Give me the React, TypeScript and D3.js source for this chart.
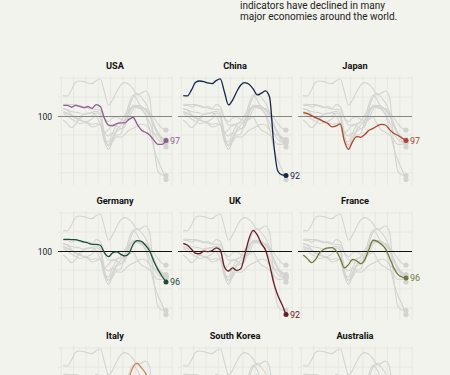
import React from "react";
import * as d3 from "d3";

const countries = ["USA", "China", "Japan", "Germany", "UK", "France", "Italy", "South Korea", "Australia"];
const colors = ["#8f5e8e", "#14264a", "#b0452a", "#1d4d3c", "#6a1b26", "#6c7b3b", "#d9825b", "#3b8b9c", "#c09a3e"];

const months = [0, 2, 4, 6, 8, 10, 12, 14, 16, 18, 20, 22, 24, 26, 28, 30, 32, 34, 36, 38, 40, 42, 44, 46, 48, 50];
const gridMonths = [-1, 5, 11, 17, 23, 29, 35, 41, 47, 53];
const gridValues = [92.5, 95, 97.5, 102.5, 105];

const usa = [101.4, 101.4, 101.15, 101.4, 101.25, 101.1, 101.25, 101.0, 101.5, 101.25, 99.7, 98.8, 98.7, 99.0, 99.1, 99.1, 99.55, 99.8, 98.9, 98.15, 97.85, 97.5, 96.85, 96.25, 96.25, 96.75];
const china = [102.68, 102.64, 103.43, 104.44, 104.61, 104.53, 104.35, 104.26, 104.66, 104.88, 103.2, 101.45, 102.1, 103.2, 104.09, 104.39, 104.17, 103.56, 102.77, 103.0, 103.3, 102.5, 96.4, 92.75, 92.22, 92.14];
const japan = [100.44, 100.31, 100.04, 99.78, 99.56, 99.25, 98.99, 98.55, 98.68, 98.95, 96.7, 95.6, 96.62, 97.28, 97.19, 97.58, 98.11, 98.37, 98.68, 98.9, 98.81, 98.2, 97.72, 97.45, 97.1, 96.75];
const germany = [101.54, 101.54, 101.49, 101.49, 101.36, 101.19, 101.05, 100.88, 100.88, 100.75, 99.78, 99.25, 99.74, 99.87, 99.56, 99.34, 99.69, 100.88, 101.36, 101.27, 100.75, 100.0, 98.68, 97.58, 96.7, 95.91];
const uk = [101.01, 100.75, 100.22, 99.69, 99.65, 99.96, 99.91, 100.04, 100.4, 100.13, 97.93, 97.36, 97.76, 97.45, 97.67, 99.56, 101.63, 102.72, 102.11, 100.97, 100.13, 98.24, 95.83, 94.16, 92.97, 91.61];
const france = [99.47, 98.99, 98.46, 98.9, 99.78, 100.22, 100.4, 100.44, 100.0, 98.99, 97.76, 98.2, 98.9, 98.68, 98.33, 98.9, 100.22, 101.41, 101.27, 100.88, 100.31, 99.12, 97.8, 96.92, 96.57, 96.44];
const italy = [100.9, 100.8, 100.6, 100.5, 100.4, 100.2, 100.3, 100.5, 100.6, 100.4, 97.5, 96.0, 96.8, 98.0, 98.3, 98.6, 101.0, 102.5, 103.0, 102.4, 101.7, 100.5, 99.0, 97.8, 97.0, 96.5];
const southKorea = [100.3, 100.0, 99.6, 99.3, 99.0, 99.1, 99.3, 99.6, 100.0, 99.8, 97.0, 96.2, 97.2, 98.2, 98.8, 99.5, 100.6, 101.2, 101.4, 101.2, 100.8, 100.4, 99.8, 99.0, 98.4, 98.15];
const australia = [100.6, 100.4, 100.1, 99.7, 99.4, 99.3, 99.1, 98.9, 99.0, 98.8, 96.8, 96.6, 97.8, 98.8, 99.3, 100.2, 100.8, 101.2, 101.1, 100.9, 101.0, 100.2, 99.0, 97.8, 97.2, 96.9];

const seriesList = [usa, china, japan, germany, uk, france, italy, southKorea, australia];

const headerLines = ["indicators have declined in many", "major economies around the world."];

const W = 450;
const H = 375;
const colX = [58, 178, 298];
const rowY = [75, 210, 345];
const panelW = 114;
const panelH = 110;
const baselineColors = ["#858585", "#111111", "#111111"];

const FONT = "Roboto, 'Liberation Sans', sans-serif";

export default function App() {
  const x = d3.scaleLinear().domain([0, 50]).range([5.3, 108]);
  const y = d3.scaleLinear().domain([90.9, 105.4]).range([panelH, 0]);
  const line = d3
    .line<number>()
    .x((_, i) => x(months[i]))
    .y((d) => y(d))
    .curve(d3.curveMonotoneX);
  const y100 = Math.round(y(100)) + 0.5;

  return (
    <svg width={W} height={H} style={{ position: "absolute", left: 0, top: 0 }}>
      <rect x={0} y={0} width={W} height={H} fill="#f3f3ee" />
      {headerLines.map((t, i) => (
        <text key={i} x={240} y={8.5 + i * 11} fontFamily={FONT} fontSize={10} fill="#222">
          {t}
        </text>
      ))}
      {countries.map((name, ci) => {
        const col = ci % 3;
        const row = Math.floor(ci / 3);
        const data = seriesList[ci];
        const last = data[data.length - 1];
        const labelY = rowY[row] + y(last) + 3;
        const showLabels = labelY < H - 2;
        return (
          <g key={name} transform={`translate(${colX[col]},${rowY[row]})`}>
            <text
              x={panelW / 2}
              y={-6}
              textAnchor="middle"
              fontFamily={FONT}
              fontWeight={700}
              fontSize={9.2}
              fill="#111"
            >
              {name}
            </text>
            {gridMonths.map((m) => (
              <line key={"v" + m} x1={x(m)} x2={x(m)} y1={1} y2={panelH} stroke="#e4e4de" strokeWidth={0.8} />
            ))}
            {gridValues.map((v) => (
              <line key={"h" + v} x1={0} x2={panelW} y1={y(v)} y2={y(v)} stroke="#e4e4de" strokeWidth={0.8} />
            ))}
            {seriesList.map((s, si) =>
              si === ci ? null : (
                <g key={"g" + si}>
                  <path d={line(s) || ""} fill="none" stroke="#d3d3d1" strokeWidth={1.1} />
                  <circle cx={x(months[months.length - 1])} cy={y(s[s.length - 1])} r={2.6} fill="#d3d3d1" />
                </g>
              )
            )}
            <line x1={0} x2={panelW} y1={y100} y2={y100} stroke={baselineColors[row]} strokeWidth={1.2} />
            {col === 0 && rowY[row] + y100 < H - 6 && (
              <text x={-6} y={y100 + 3} textAnchor="end" fontFamily={FONT} fontSize={8.5} fill="#222">
                100
              </text>
            )}
            <path d={line(data) || ""} fill="none" stroke={colors[ci]} strokeWidth={1.3} />
            <circle cx={x(months[months.length - 1])} cy={y(last)} r={2.5} fill={colors[ci]} />
            {showLabels && (
              <text
                x={x(months[months.length - 1]) + 4}
                y={y(last) + 3.2}
                fontFamily={FONT}
                fontSize={9}
                fill={colors[ci]}
              >
                {Math.round(last)}
              </text>
            )}
          </g>
        );
      })}
    </svg>
  );
}
